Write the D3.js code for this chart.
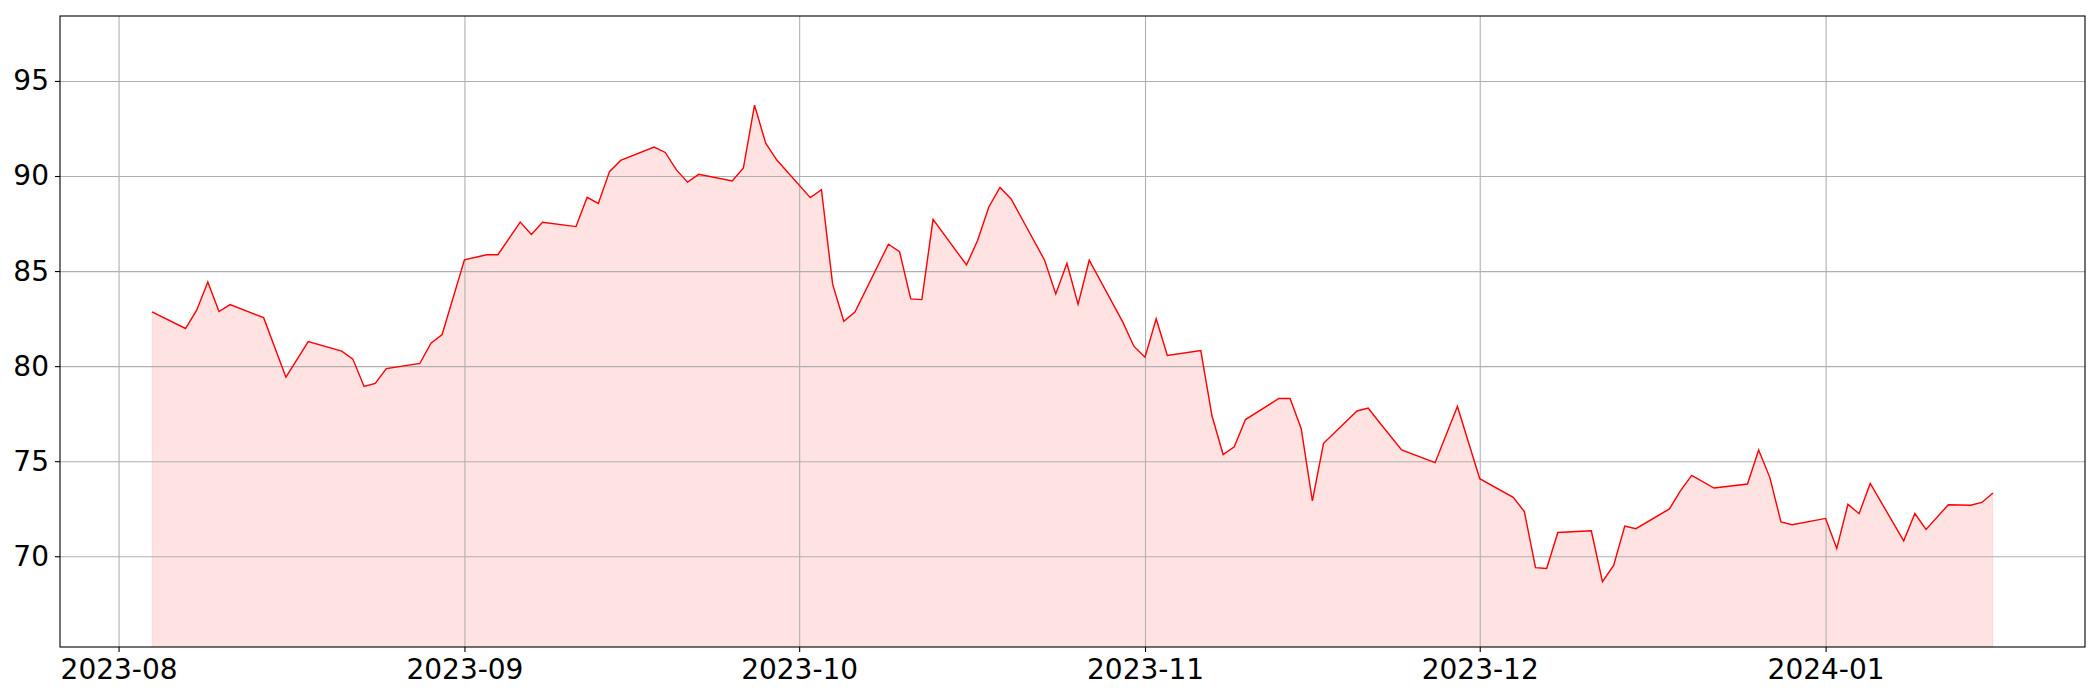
<!DOCTYPE html>
<html>
<head>
<meta charset="utf-8">
<script src="https://cdn.jsdelivr.net/npm/d3@7"></script>
<style>
  body { margin: 0; background: #fff; }
  svg { display: block; background: #fff; }
  .grid line { stroke: #b0b0b0; stroke-width: 1.1; }
  .grid path { display: none; }
</style>
</head>
<body>
<div id="canvas"></div>
<script>
// daily closes
const dates = [
  "2023-08-04","2023-08-07","2023-08-08","2023-08-09","2023-08-10","2023-08-11",
  "2023-08-14","2023-08-16","2023-08-18","2023-08-21","2023-08-22","2023-08-23",
  "2023-08-24","2023-08-25","2023-08-28","2023-08-29","2023-08-30","2023-09-01",
  "2023-09-03","2023-09-04","2023-09-06","2023-09-07","2023-09-08","2023-09-11",
  "2023-09-12","2023-09-13","2023-09-14","2023-09-15","2023-09-18","2023-09-19",
  "2023-09-20","2023-09-21","2023-09-22","2023-09-25","2023-09-26","2023-09-27",
  "2023-09-28","2023-09-29","2023-10-02","2023-10-03","2023-10-04","2023-10-05",
  "2023-10-06","2023-10-09","2023-10-10","2023-10-11","2023-10-12","2023-10-13",
  "2023-10-16","2023-10-17","2023-10-18","2023-10-19","2023-10-20","2023-10-23",
  "2023-10-24","2023-10-25","2023-10-26","2023-10-27","2023-10-30","2023-10-31",
  "2023-11-01","2023-11-02","2023-11-03","2023-11-06","2023-11-07","2023-11-08",
  "2023-11-09","2023-11-10","2023-11-13","2023-11-14","2023-11-15","2023-11-16",
  "2023-11-17","2023-11-20","2023-11-21","2023-11-22","2023-11-24","2023-11-27",
  "2023-11-29","2023-12-01","2023-12-04","2023-12-05","2023-12-06","2023-12-07",
  "2023-12-08","2023-12-11","2023-12-12","2023-12-13","2023-12-14","2023-12-15",
  "2023-12-18","2023-12-19","2023-12-20","2023-12-22","2023-12-25","2023-12-26",
  "2023-12-27","2023-12-28","2023-12-29","2024-01-01","2024-01-02","2024-01-03",
  "2024-01-04","2024-01-05","2024-01-08","2024-01-09","2024-01-10","2024-01-12",
  "2024-01-14","2024-01-15","2024-01-16"
];
const prices = [
  82.85,81.98,82.94,84.43,82.87,83.24,
  82.55,79.42,81.29,80.79,80.37,78.93,
  79.09,79.87,80.14,81.21,81.66,85.59,
  85.86,85.86,87.58,86.92,87.57,87.34,
  88.88,88.56,90.23,90.82,91.52,91.24,
  90.32,89.68,90.09,89.74,90.42,93.73,
  91.73,90.84,88.86,89.28,84.31,82.36,
  82.84,86.41,86.02,83.54,83.50,87.72,
  85.32,86.62,88.37,89.40,88.79,85.57,
  83.80,85.41,83.26,85.57,82.33,81.05,
  80.47,82.49,80.56,80.82,77.39,75.35,
  75.76,77.19,78.30,78.30,76.71,72.91,
  75.94,77.64,77.79,77.05,75.59,74.92,
  77.88,74.08,73.10,72.35,69.40,69.36,
  71.25,71.34,68.66,69.52,71.59,71.45,
  72.49,73.45,74.25,73.59,73.80,75.59,
  74.15,71.80,71.66,71.99,70.41,72.73,
  72.24,73.83,70.81,72.25,71.41,72.71,
  72.68,72.83,73.33
];
const yTicks = [70, 75, 80, 85, 90, 95];
const monthTicks = ["2023-08-01","2023-09-01","2023-10-01","2023-11-01","2023-12-01","2024-01-01"];

const parse = d3.timeParse("%Y-%m-%d");
const data = dates.map((d, i) => ({date: parse(d), value: prices[i]}));

const width = 2100;
const height = 700;
const margin = {top: 16, left: 60, bottom: 53, right: 15};
const iwidth = width - margin.left - margin.right;
const iheight = height - margin.top - margin.bottom;

const svg = d3.select("#canvas").append("svg")
    .attr("width", width)
    .attr("height", height);

const graph = svg.append("g").attr("transform", `translate(${margin.left},${margin.top})`);

// matplotlib-like 5% margins on x, ylim = min*0.95 .. max*1.05
const ext = d3.extent(data, d => d.date);
const pad = (ext[1] - ext[0]) * 0.05;
const x = d3.scaleTime()
    .domain([new Date(+ext[0] - pad), new Date(+ext[1] + pad)])
    .range([0, iwidth]);

const y = d3.scaleLinear()
    .domain([d3.min(prices) * 0.95, d3.max(prices) * 1.05])
    .range([iheight, 0]);

svg.append("defs").append("clipPath").attr("id", "clip")
  .append("rect").attr("width", iwidth).attr("height", iheight);

// fill under the line
const area = d3.area()
    .x(d => x(d.date))
    .y0(iheight)
    .y1(d => y(d.value));

graph.append("path")
    .datum(data)
    .attr("clip-path", "url(#clip)")
    .attr("d", area)
    .style("fill", "rgba(255,0,0,0.11)")
    .style("stroke", "rgba(255,0,0,0.08)")
    .style("stroke-width", 1);

// grid
const tickDates = monthTicks.map(parse);
graph.append("g")
    .attr("class", "grid")
    .attr("transform", `translate(0,${iheight})`)
    .call(d3.axisBottom(x).tickValues(tickDates).tickSize(-iheight).tickFormat(""));
graph.append("g")
    .attr("class", "grid")
    .call(d3.axisLeft(y).tickValues(yTicks).tickSize(-iwidth).tickFormat(""));

// line
const line = d3.line()
    .x(d => x(d.date))
    .y(d => y(d.value));

graph.append("path")
    .datum(data)
    .attr("d", line)
    .style("fill", "none")
    .style("stroke", "#ff0000")
    .style("stroke-width", 1.4)
    .style("stroke-linejoin", "miter");

// frame
graph.append("rect")
    .attr("width", iwidth)
    .attr("height", iheight)
    .style("fill", "none")
    .style("stroke", "#000")
    .style("stroke-width", 1.1);

// axes
const xAxis = graph.append("g")
    .attr("transform", `translate(0,${iheight})`)
    .call(d3.axisBottom(x).tickValues(tickDates).tickFormat(d3.timeFormat("%Y-%m")).tickSize(5).tickPadding(7));
const yAxis = graph.append("g")
    .call(d3.axisLeft(y).tickValues(yTicks).tickSize(5).tickPadding(6));

[xAxis, yAxis].forEach(a => {
  a.select(".domain").remove();
  a.selectAll("line").style("stroke", "#000").style("stroke-width", 1.1);
  a.selectAll("text")
    .style("font-family", "'DejaVu Sans', sans-serif")
    .style("font-size", "28px")
    .style("fill", "#000");
});
</script>
</body>
</html>
